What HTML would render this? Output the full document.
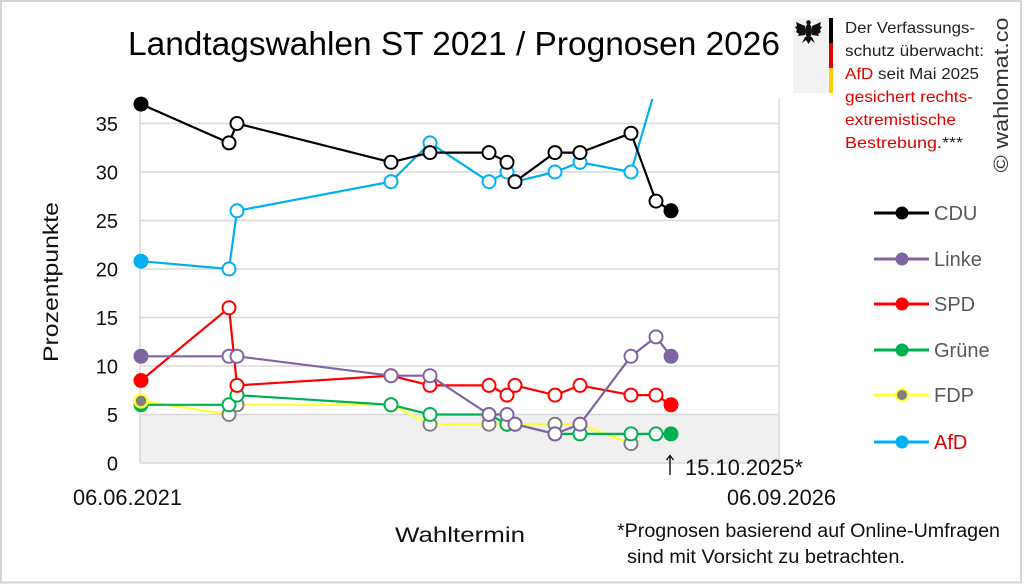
<!DOCTYPE html>
<html><head><meta charset="utf-8"><style>
html,body{margin:0;padding:0;background:#fff;}
svg{display:block;font-family:"Liberation Sans",sans-serif;}
</style></head><body>
<svg width="1024" height="584" viewBox="0 0 1024 584" xmlns="http://www.w3.org/2000/svg">
<rect x="0" y="0" width="1024" height="584" fill="#fff"/>
<rect x="1" y="1" width="1020" height="581.5" fill="none" stroke="#d4d4d4" stroke-width="2"/>
<defs><clipPath id="pc"><rect x="130" y="99" width="660" height="370"/></clipPath></defs>
<!-- shaded band -->
<rect x="140" y="414.5" width="639" height="48.5" fill="#f0f0f0"/>
<!-- gridlines -->
<g stroke="#d9d9d9" stroke-width="1.5">
<line x1="140" y1="123.5" x2="779" y2="123.5"/>
<line x1="140" y1="172" x2="779" y2="172"/>
<line x1="140" y1="220.5" x2="779" y2="220.5"/>
<line x1="140" y1="269" x2="779" y2="269"/>
<line x1="140" y1="317.5" x2="779" y2="317.5"/>
<line x1="140" y1="366" x2="779" y2="366"/>
<line x1="140" y1="414.5" x2="779" y2="414.5"/>
<line x1="140" y1="463" x2="779" y2="463"/>
<line x1="140" y1="99" x2="140" y2="463"/>
<line x1="779" y1="99" x2="779" y2="463"/>
</g>
<!-- y tick labels -->
<g font-size="20" fill="#111" text-anchor="end">
<text x="118" y="131">35</text>
<text x="118" y="179.5">30</text>
<text x="118" y="228">25</text>
<text x="118" y="276.5">20</text>
<text x="118" y="325">15</text>
<text x="118" y="373.5">10</text>
<text x="118" y="422">5</text>
<text x="118" y="470.5">0</text>
</g>
<!-- title -->
<text x="128" y="55" font-size="33" fill="#000" textLength="652" lengthAdjust="spacingAndGlyphs">Landtagswahlen ST 2021 / Prognosen 2026</text>
<text transform="translate(58,282) rotate(-90)" font-size="21" fill="#111" text-anchor="middle" textLength="160" lengthAdjust="spacingAndGlyphs">Prozentpunkte</text>
<text x="73" y="505" font-size="22" fill="#111" textLength="109" lengthAdjust="spacingAndGlyphs">06.06.2021</text>
<text x="727" y="505" font-size="22" fill="#111" textLength="109" lengthAdjust="spacingAndGlyphs">06.09.2026</text>
<g stroke="#111" stroke-width="1.4" fill="none">
<line x1="670" y1="456" x2="670" y2="475"/>
<polyline points="666.5,460 670,455.5 673.5,460"/>
</g>
<text x="685" y="475" font-size="22" fill="#111" textLength="118" lengthAdjust="spacingAndGlyphs">15.10.2025*</text>
<text x="395" y="542" font-size="21" fill="#111" textLength="130" lengthAdjust="spacingAndGlyphs">Wahltermin</text>
<text x="617" y="537" font-size="19" fill="#111" textLength="383" lengthAdjust="spacingAndGlyphs">*Prognosen basierend auf Online-Umfragen</text>
<text x="627" y="563" font-size="19" fill="#111" textLength="278" lengthAdjust="spacingAndGlyphs">sind mit Vorsicht zu betrachten.</text>

<!-- series -->
<g fill="none" stroke-width="2.2" stroke-linejoin="round">
<polyline clip-path="url(#pc)" stroke="#00b0f0" points="141,261.2 229,269 237,210.8 391,181.7 430,142.9 489,181.7 507,172 515,181.7 555,172 580,162.3 631,172 657,83"/>
<polyline stroke="#ffff33" points="141,400.9 229,414.5 237,404.8 391,404.8 430,424.2 489,424.2 507,424.2 515,424.2 555,424.2 580,424.2 631,443.6"/>
<polyline stroke="#00b050" points="141,404.8 229,404.8 237,395.1 391,404.8 430,414.5 489,414.5 507,424.2 515,424.2 555,433.9 580,433.9 631,433.9 656,433.9 671,433.9"/>
<polyline stroke="#ff0000" points="141,380.5 229,307.8 237,385.4 391,375.7 430,385.4 489,385.4 507,395.1 515,385.4 555,395.1 580,385.4 631,395.1 656,395.1 671,404.8"/>
<polyline stroke="#8064a2" points="141,356.3 229,356.3 237,356.3 391,375.7 430,375.7 489,414.5 507,414.5 515,424.2 555,433.9 580,424.2 631,356.3 656,336.9 671,356.3"/>
<polyline stroke="#000" points="141,104.1 229,142.9 237,123.5 391,162.3 430,152.6 489,152.6 507,162.3 515,181.7 555,152.6 580,152.6 631,133.2 656,201.1 671,210.8"/>
</g>
<!-- markers -->
<g stroke-width="2" fill="#fff">
<g stroke="#00b0f0">
<circle cx="229" cy="269" r="6.5"/><circle cx="237" cy="210.8" r="6.5"/><circle cx="391" cy="181.7" r="6.5"/><circle cx="430" cy="142.9" r="6.5"/><circle cx="489" cy="181.7" r="6.5"/><circle cx="507" cy="172" r="6.5"/><circle cx="515" cy="181.7" r="6.5"/><circle cx="555" cy="172" r="6.5"/><circle cx="580" cy="162.3" r="6.5"/><circle cx="631" cy="172" r="6.5"/>
<circle cx="141" cy="261.2" r="6.5" fill="#00b0f0"/>
</g>
<g stroke="#808080">
<circle cx="229" cy="414.5" r="6.5"/><circle cx="237" cy="404.8" r="6.5"/><circle cx="391" cy="404.8" r="6.5"/><circle cx="430" cy="424.2" r="6.5"/><circle cx="489" cy="424.2" r="6.5"/><circle cx="507" cy="424.2" r="6.5"/><circle cx="515" cy="424.2" r="6.5"/><circle cx="555" cy="424.2" r="6.5"/><circle cx="580" cy="424.2" r="6.5"/><circle cx="631" cy="443.6" r="6.5"/>
</g>
<g stroke="#00b050">
<circle cx="141" cy="404.8" r="6.5" fill="#00b050"/>
<circle cx="229" cy="404.8" r="6.5"/><circle cx="237" cy="395.1" r="6.5"/><circle cx="391" cy="404.8" r="6.5"/><circle cx="430" cy="414.5" r="6.5"/><circle cx="489" cy="414.5" r="6.5"/><circle cx="507" cy="424.2" r="6.5"/><circle cx="515" cy="424.2" r="6.5"/><circle cx="555" cy="433.9" r="6.5"/><circle cx="580" cy="433.9" r="6.5"/><circle cx="631" cy="433.9" r="6.5"/><circle cx="656" cy="433.9" r="6.5"/>
<circle cx="671" cy="433.9" r="6.5" fill="#00b050"/>
</g>
<circle cx="141" cy="400.9" r="6.5" fill="#808080" stroke="#ffff33" stroke-width="2.5"/>
<g stroke="#ff0000">
<circle cx="141" cy="380.5" r="6.5" fill="#ff0000"/>
<circle cx="229" cy="307.8" r="6.5"/><circle cx="237" cy="385.4" r="6.5"/><circle cx="391" cy="375.7" r="6.5"/><circle cx="430" cy="385.4" r="6.5"/><circle cx="489" cy="385.4" r="6.5"/><circle cx="507" cy="395.1" r="6.5"/><circle cx="515" cy="385.4" r="6.5"/><circle cx="555" cy="395.1" r="6.5"/><circle cx="580" cy="385.4" r="6.5"/><circle cx="631" cy="395.1" r="6.5"/><circle cx="656" cy="395.1" r="6.5"/>
<circle cx="671" cy="404.8" r="6.5" fill="#ff0000"/>
</g>
<g stroke="#8064a2">
<circle cx="141" cy="356.3" r="6.5" fill="#8064a2"/>
<circle cx="229" cy="356.3" r="6.5"/><circle cx="237" cy="356.3" r="6.5"/><circle cx="391" cy="375.7" r="6.5"/><circle cx="430" cy="375.7" r="6.5"/><circle cx="489" cy="414.5" r="6.5"/><circle cx="507" cy="414.5" r="6.5"/><circle cx="515" cy="424.2" r="6.5"/><circle cx="555" cy="433.9" r="6.5"/><circle cx="580" cy="424.2" r="6.5"/><circle cx="631" cy="356.3" r="6.5"/><circle cx="656" cy="336.9" r="6.5"/>
<circle cx="671" cy="356.3" r="6.5" fill="#8064a2"/>
</g>
<g stroke="#000">
<circle cx="141" cy="104.1" r="6.5" fill="#000"/>
<circle cx="229" cy="142.9" r="6.5"/><circle cx="237" cy="123.5" r="6.5"/><circle cx="391" cy="162.3" r="6.5"/><circle cx="430" cy="152.6" r="6.5"/><circle cx="489" cy="152.6" r="6.5"/><circle cx="507" cy="162.3" r="6.5"/><circle cx="515" cy="181.7" r="6.5"/><circle cx="555" cy="152.6" r="6.5"/><circle cx="580" cy="152.6" r="6.5"/><circle cx="631" cy="133.2" r="6.5"/><circle cx="656" cy="201.1" r="6.5"/>
<circle cx="671" cy="210.8" r="6.5" fill="#000"/>
</g>
</g>

<!-- legend -->
<g stroke-width="3">
<line x1="874" y1="213" x2="929" y2="213" stroke="#000"/>
<line x1="874" y1="259" x2="929" y2="259" stroke="#8064a2"/>
<line x1="874" y1="304" x2="929" y2="304" stroke="#ff0000"/>
<line x1="874" y1="350" x2="929" y2="350" stroke="#00b050"/>
<line x1="874" y1="395" x2="929" y2="395" stroke="#ffff33"/>
<line x1="874" y1="442" x2="929" y2="442" stroke="#00b0f0"/>
</g>
<circle cx="902" cy="213" r="6.5" fill="#000"/>
<circle cx="902" cy="259" r="6.5" fill="#8064a2"/>
<circle cx="902" cy="304" r="6.5" fill="#ff0000"/>
<circle cx="902" cy="350" r="6.5" fill="#00b050"/>
<circle cx="902" cy="395" r="6" fill="#808080" stroke="#ffff33" stroke-width="2"/>
<circle cx="902" cy="442" r="6.5" fill="#00b0f0"/>
<g font-size="20" fill="#595959">
<text x="934" y="220">CDU</text>
<text x="934" y="266">Linke</text>
<text x="934" y="311">SPD</text>
<text x="934" y="357">Grüne</text>
<text x="934" y="402">FDP</text>
<text x="934" y="449" fill="#e00000">AfD</text>
</g>

<!-- top-right note -->
<rect x="793" y="18" width="37" height="75" fill="#f2f2f2"/>
<rect x="829" y="18" width="4" height="25" fill="#000"/>
<rect x="829" y="43" width="4" height="25" fill="#dd0000"/>
<rect x="829" y="68" width="4" height="25" fill="#ffce00"/>
<g fill="#111">
<ellipse cx="808.5" cy="31" rx="3.5" ry="7"/>
<circle cx="808.5" cy="22.5" r="2.3"/>
<path d="M805,26 L796,22 L797,26 L795,27 L797,30 L796,32 L799,34 L798,36 L805,35 Z"/>
<path d="M812,26 L821,22 L820,26 L822,27 L820,30 L821,32 L818,34 L819,36 L812,35 Z"/>
<path d="M805,37 L802,43 L806,40 L808.5,44 L811,40 L815,43 L812,37 Z"/>
</g>
<g font-size="16" fill="#222">
<text x="845" y="33" textLength="130" lengthAdjust="spacingAndGlyphs">Der Verfassungs-</text>
<text x="845" y="56" textLength="139" lengthAdjust="spacingAndGlyphs">schutz überwacht:</text>
<text x="845" y="79" textLength="134" lengthAdjust="spacingAndGlyphs"><tspan fill="#e00000">AfD</tspan> seit Mai 2025</text>
<text x="845" y="102" fill="#e00000" textLength="128" lengthAdjust="spacingAndGlyphs">gesichert rechts-</text>
<text x="845" y="125" fill="#e00000" textLength="111" lengthAdjust="spacingAndGlyphs">extremistische</text>
<text x="845" y="148" textLength="118" lengthAdjust="spacingAndGlyphs"><tspan fill="#e00000">Bestrebung</tspan>.***</text>
</g>
<text transform="translate(1008,95) rotate(-90)" font-size="20" fill="#333" text-anchor="middle" textLength="155" lengthAdjust="spacingAndGlyphs">© wahlomat.co</text>
</svg>
</body></html>
